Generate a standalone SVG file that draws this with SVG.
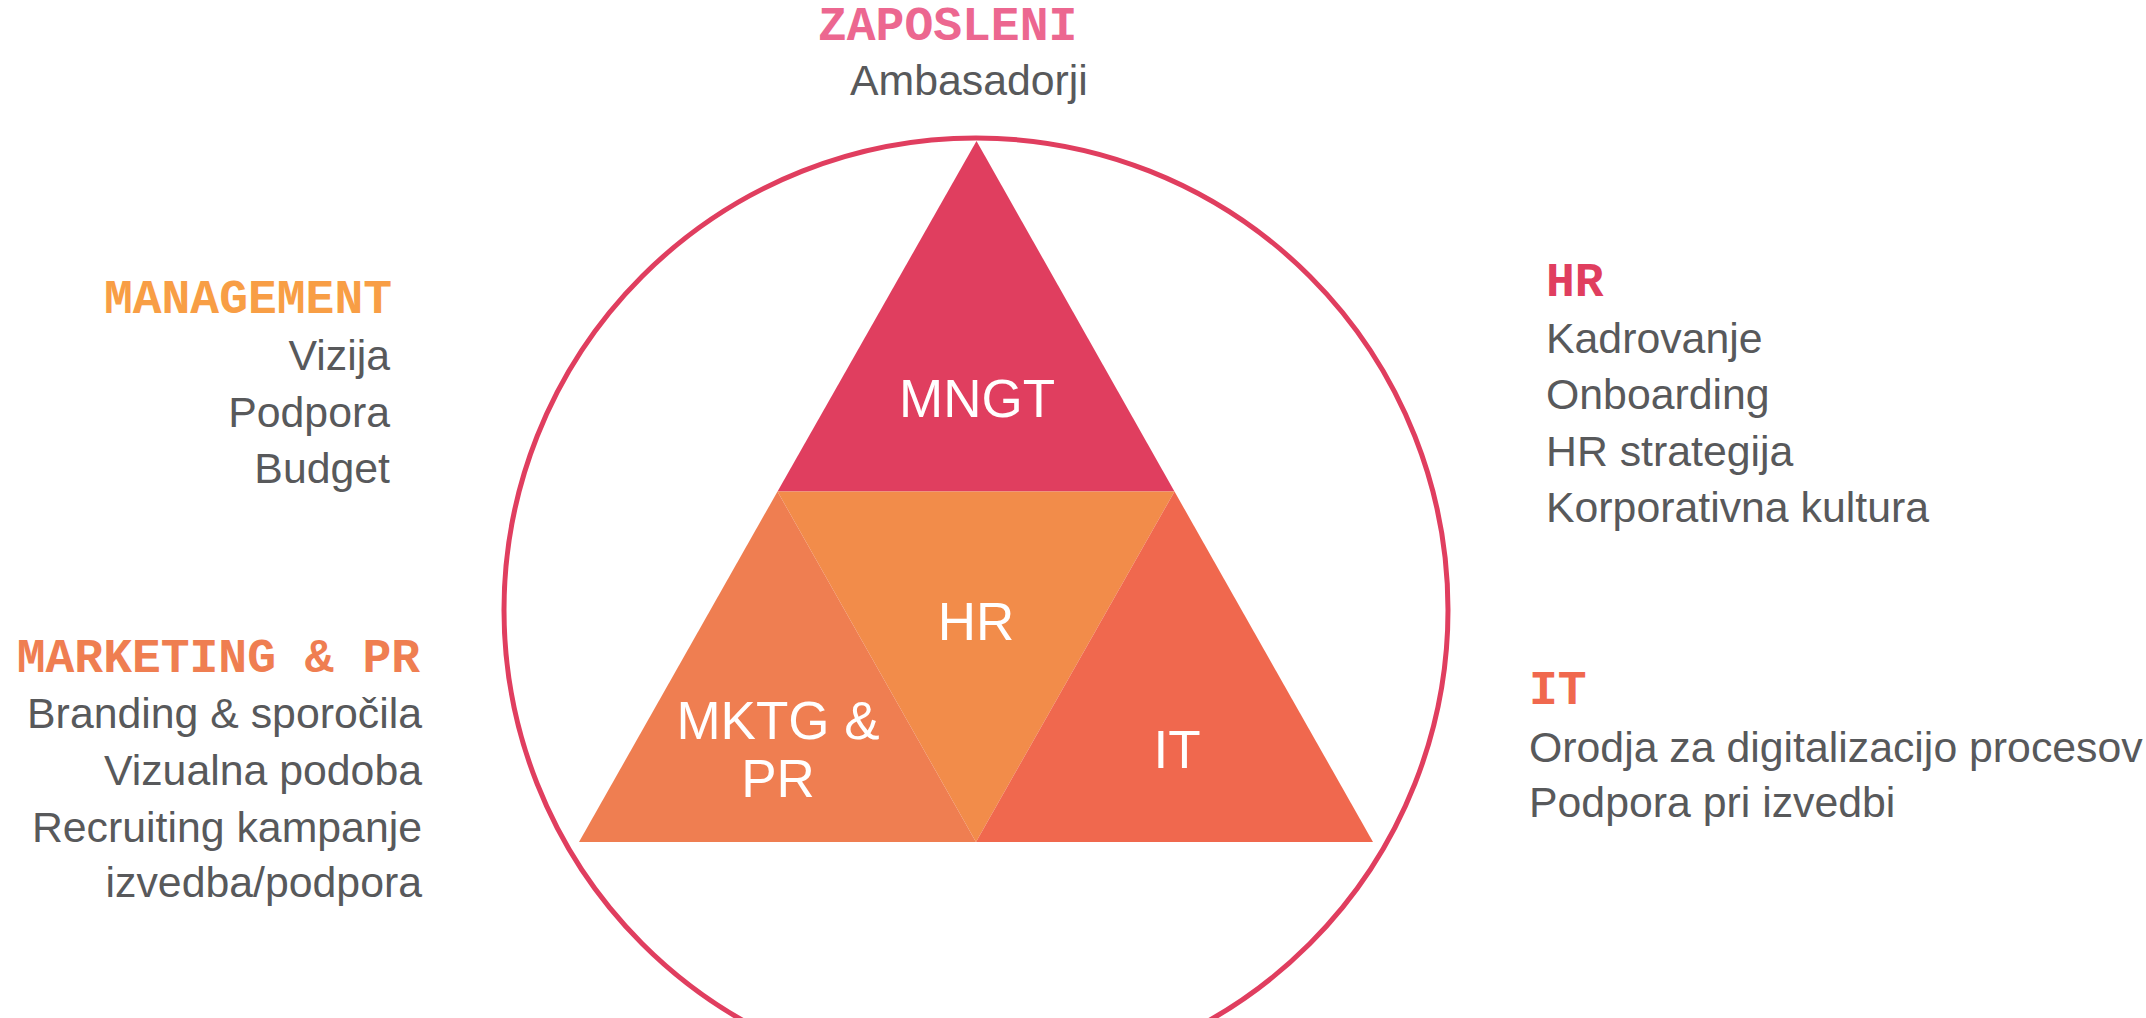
<svg xmlns="http://www.w3.org/2000/svg" width="2146" height="1018" viewBox="0 0 2146 1018">
<style>
.head{font-family:"Courier New","Liberation Mono",monospace;font-weight:bold;font-size:48px}
.body{font-family:"Liberation Sans",Arial,sans-serif;font-size:42.8px;fill:#58595B}
.lbl{font-family:"Liberation Sans",Arial,sans-serif;font-size:53px;fill:#FFFFFF;text-anchor:middle}
.r{text-anchor:end}
</style>
<rect width="2146" height="1018" fill="#FFFFFF"/>
<g id="circle">
<circle cx="976" cy="610" r="472" fill="none" stroke="#E03E5F" stroke-width="5"/>
</g>
<g id="pyramid">
<g id="node-mngt">
<polygon points="976.5,141 1174.5,491.5 777.5,491.5" fill="#E03E5F"/>
<text class="lbl" x="977" y="417">MNGT</text>
</g>
<g id="node-hr">
<polygon points="777.5,491.5 1174.5,491.5 976,842" fill="#F28C4A"/>
<text class="lbl" x="976" y="640">HR</text>
</g>
<g id="node-mktg">
<polygon points="777.5,491.5 976,842 579,842" fill="#EF7E51"/>
<text class="lbl" x="778" y="739">MKTG &amp;</text>
<text class="lbl" x="778" y="797">PR</text>
</g>
<g id="node-it">
<polygon points="1174.5,491.5 1373,842 976,842" fill="#F0684E"/>
<text class="lbl" x="1177" y="768">IT</text>
</g>
</g>
<g id="label-zaposleni">
<text class="head" x="818" y="40" fill="#EC6790">ZAPOSLENI</text>
<text class="body" x="850" y="95">Ambasadorji</text>
</g>
<g id="label-management">
<text class="head r" x="392" y="313" fill="#F89E45">MANAGEMENT</text>
<text class="body r" x="390" y="370">Vizija</text>
<text class="body r" x="390" y="427">Podpora</text>
<text class="body r" x="390" y="483">Budget</text>
</g>
<g id="label-marketing">
<text class="head r" x="420" y="672" fill="#EF7E51">MARKETING &amp; PR</text>
<text class="body r" x="422" y="728">Branding &amp; sporočila</text>
<text class="body r" x="422" y="785">Vizualna podoba</text>
<text class="body r" x="422" y="842">Recruiting kampanje</text>
<text class="body r" x="422" y="897">izvedba/podpora</text>
</g>
<g id="label-hr">
<text class="head" x="1546" y="296" fill="#E03E5F">HR</text>
<text class="body" x="1546" y="353">Kadrovanje</text>
<text class="body" x="1546" y="409">Onboarding</text>
<text class="body" x="1546" y="466">HR strategija</text>
<text class="body" x="1546" y="522">Korporativna kultura</text>
</g>
<g id="label-it">
<text class="head" x="1529" y="704" fill="#F0684E">IT</text>
<text class="body" x="1529" y="762">Orodja za digitalizacijo procesov</text>
<text class="body" x="1529" y="817">Podpora pri izvedbi</text>
</g>
<g id="connectors"/>
</svg>
